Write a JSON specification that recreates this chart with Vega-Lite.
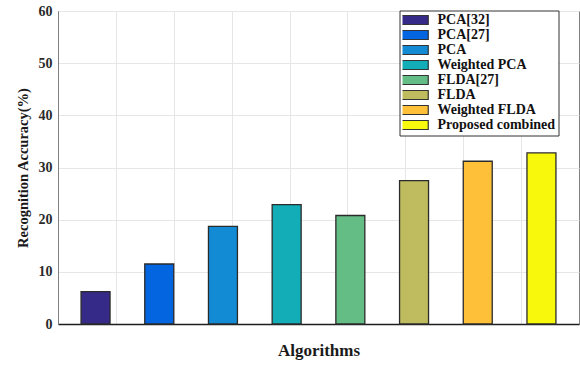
{
  "$schema": "https://vega.github.io/schema/vega-lite/v6.json",
  "width": 521,
  "height": 313,
  "autosize": {"type": "none"},
  "padding": {"left": 58, "top": 11, "right": 1, "bottom": 42},
  "background": "white",
  "config": {
    "view": {"stroke": "#808080", "strokeWidth": 1},
    "font": "Liberation Serif"
  },
  "data": {
    "values": [
      {"algorithm": "PCA[32]", "acc": 6.2},
      {"algorithm": "PCA[27]", "acc": 11.5},
      {"algorithm": "PCA", "acc": 18.7},
      {"algorithm": "Weighted PCA", "acc": 22.9},
      {"algorithm": "FLDA[27]", "acc": 20.8},
      {"algorithm": "FLDA", "acc": 27.5},
      {"algorithm": "Weighted FLDA", "acc": 31.2},
      {"algorithm": "Proposed combined", "acc": 32.8}
    ]
  },
  "layer": [
    {
      "mark": {"type": "rule", "opacity": 0},
      "encoding": {
        "x": {
          "datum": 0,
          "type": "quantitative",
          "scale": {"domain": [0, 9], "nice": false},
          "axis": {
            "values": [1, 2, 3, 4, 5, 6, 7, 8],
            "grid": true,
            "gridColor": "#e6e6e6",
            "gridWidth": 1,
            "labels": false,
            "domain": true,
            "domainColor": "#1e1e1e",
            "domainWidth": 1.3,
            "ticks": false,
            "title": "Algorithms",
            "titleFont": "Liberation Serif",
            "titleFontSize": 17,
            "titleFontWeight": "bold",
            "titleColor": "#1a1a1a",
            "titlePadding": 18
          }
        }
      }
    },
    {
      "mark": {"type": "bar", "stroke": "#2b2b2b", "strokeWidth": 1.3},
      "encoding": {
        "x": {
          "field": "algorithm",
          "type": "nominal",
          "sort": null,
          "scale": {"paddingInner": 0.545, "paddingOuter": 0.362},
          "axis": null
        },
        "y": {
          "field": "acc",
          "type": "quantitative",
          "scale": {"domain": [0, 60], "nice": false},
          "axis": {
            "values": [0, 10, 20, 30, 40, 50, 60],
            "grid": true,
            "gridColor": "#e6e6e6",
            "domain": true,
            "domainColor": "#808080",
            "ticks": false,
            "labelFont": "Liberation Serif",
            "labelFontWeight": "bold",
            "labelFontSize": 14,
            "labelColor": "#2a2a2a",
            "labelPadding": 6,
            "title": "Recognition Accuracy(%)",
            "titleFont": "Liberation Serif",
            "titleFontSize": 14.5,
            "titleFontWeight": "bold",
            "titleColor": "#1a1a1a",
            "titlePadding": 8
          }
        },
        "color": {
          "field": "algorithm",
          "type": "nominal",
          "sort": null,
          "scale": {
            "domain": ["PCA[32]", "PCA[27]", "PCA", "Weighted PCA", "FLDA[27]", "FLDA", "Weighted FLDA", "Proposed combined"],
            "range": ["#352a87", "#0366e0", "#128bd4", "#12adb6", "#63bd84", "#bfbb5f", "#fdc038", "#f8f80d"]
          },
          "legend": {
            "orient": "none",
            "legendX": 341.5,
            "legendY": -0.5,
            "title": null,
            "symbolType": "M-3.75,-0.9H3.75V0.9H-3.75Z",
            "symbolSize": 100,
            "symbolStrokeColor": "#333333",
            "symbolStrokeWidth": 1.2,
            "symbolOpacity": 1,
            "labelFont": "Liberation Serif",
            "labelFontWeight": "bold",
            "labelFontSize": 14,
            "labelColor": "#111111",
            "labelOffset": 21,
            "labelLimit": 300,
            "clipHeight": 13,
            "rowPadding": 0,
            "padding": 3,
            "strokeColor": "#333333",
            "fillColor": "white"
          }
        }
      }
    }
  ],
  "resolve": {"scale": {"x": "independent"}, "axis": {"x": "independent"}}
}
